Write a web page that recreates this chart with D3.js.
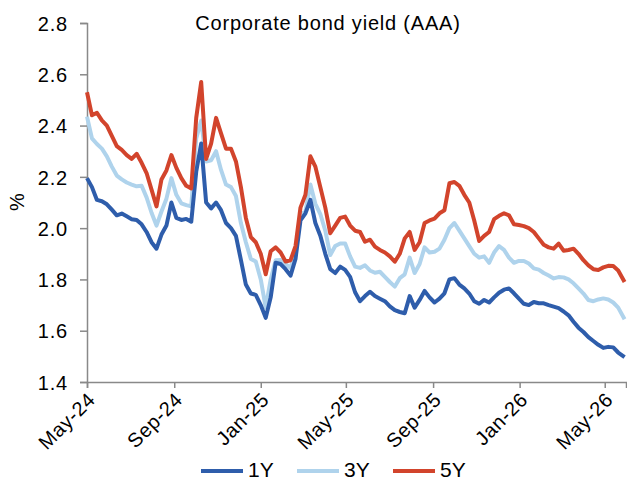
<!DOCTYPE html>
<html>
<head>
<meta charset="utf-8">
<script src="https://cdn.jsdelivr.net/npm/d3@7"></script>
<style>
  html, body { margin: 0; padding: 0; background: #fff; }
  svg { display: block; font-family: "Liberation Sans", Arial, sans-serif; }
</style>
</head>
<body>
<svg id="chart" width="627" height="478"></svg>
<script>
// Weekly observation dates
const dates = [
  "2024-05-01","2024-05-08","2024-05-15","2024-05-22","2024-05-29","2024-06-05","2024-06-12","2024-06-19","2024-06-26","2024-07-03",
  "2024-07-10","2024-07-17","2024-07-24","2024-07-31","2024-08-07","2024-08-14","2024-08-21","2024-08-28","2024-09-04","2024-09-11",
  "2024-09-18","2024-09-25","2024-10-02","2024-10-09","2024-10-16","2024-10-23","2024-10-30","2024-11-06","2024-11-13","2024-11-20",
  "2024-11-27","2024-12-04","2024-12-11","2024-12-18","2024-12-25","2025-01-01","2025-01-08","2025-01-15","2025-01-22","2025-01-29",
  "2025-02-05","2025-02-12","2025-02-19","2025-02-26","2025-03-05","2025-03-12","2025-03-19","2025-03-26","2025-04-02","2025-04-09",
  "2025-04-16","2025-04-23","2025-04-30","2025-05-07","2025-05-14","2025-05-21","2025-05-28","2025-06-04","2025-06-11","2025-06-18",
  "2025-06-25","2025-07-02","2025-07-09","2025-07-16","2025-07-23","2025-07-30","2025-08-06","2025-08-13","2025-08-20","2025-08-27",
  "2025-09-03","2025-09-10","2025-09-17","2025-09-24","2025-10-01","2025-10-08","2025-10-15","2025-10-22","2025-10-29","2025-11-05",
  "2025-11-12","2025-11-19","2025-11-26","2025-12-03","2025-12-10","2025-12-17","2025-12-24","2025-12-31","2026-01-07","2026-01-14",
  "2026-01-21","2026-01-28","2026-02-04","2026-02-11","2026-02-18","2026-02-25","2026-03-04","2026-03-11","2026-03-18","2026-03-25",
  "2026-04-01","2026-04-08","2026-04-15","2026-04-22","2026-04-29","2026-05-06","2026-05-13","2026-05-20","2026-05-29"
];

// AAA corporate bond yields, %
const yield1Y = [
  2.195, 2.16, 2.11, 2.105, 2.093, 2.072, 2.05, 2.057, 2.046, 2.035,
  2.032, 2.015, 1.985, 1.945, 1.92, 1.975, 2.01, 2.10, 2.04, 2.032,
  2.036, 2.025, 2.22, 2.33, 2.10, 2.077, 2.10, 2.07, 2.02, 2.0,
  1.97, 1.876, 1.78, 1.745, 1.74, 1.70, 1.65, 1.73, 1.865, 1.86,
  1.84, 1.815, 1.88, 2.03, 2.058, 2.11, 2.02, 1.97, 1.90, 1.84,
  1.825, 1.85, 1.837, 1.81, 1.75, 1.715, 1.735, 1.752, 1.735, 1.725,
  1.715, 1.695, 1.68, 1.673, 1.668, 1.735, 1.69, 1.72, 1.755, 1.73,
  1.71, 1.725, 1.746, 1.80, 1.805, 1.78, 1.765, 1.745, 1.715, 1.705,
  1.72, 1.71, 1.73, 1.748, 1.76, 1.765, 1.746, 1.725, 1.705, 1.70,
  1.712, 1.707, 1.707, 1.70, 1.694, 1.688, 1.675, 1.66, 1.635, 1.612,
  1.595, 1.575, 1.56, 1.545, 1.533, 1.537, 1.535, 1.515, 1.497
];
const yield3Y = [
  2.435, 2.35, 2.328, 2.31, 2.28, 2.24, 2.205, 2.19, 2.178, 2.17,
  2.163, 2.165, 2.12, 2.06, 2.01, 2.065, 2.115, 2.195, 2.13, 2.097,
  2.09, 2.085, 2.35, 2.42, 2.26, 2.265, 2.30, 2.227, 2.17, 2.16,
  2.125, 2.02, 1.945, 1.88, 1.87, 1.80, 1.69, 1.80, 1.875, 1.876,
  1.86, 1.845, 1.91, 2.055, 2.065, 2.17, 2.095, 2.055, 1.99, 1.895,
  1.93, 1.94, 1.94, 1.89, 1.85, 1.845, 1.855, 1.835, 1.826, 1.83,
  1.81, 1.79, 1.772, 1.805, 1.82, 1.885, 1.825, 1.86, 1.925, 1.905,
  1.908, 1.92, 1.955, 2.0, 2.02, 1.99, 1.96, 1.93, 1.90, 1.885,
  1.89, 1.865, 1.905, 1.93, 1.915, 1.885, 1.865, 1.872, 1.872, 1.862,
  1.843, 1.838, 1.825, 1.815, 1.804, 1.809, 1.808, 1.80, 1.785, 1.765,
  1.745, 1.72, 1.715, 1.722, 1.726, 1.722, 1.71, 1.69, 1.645
];
const yield5Y = [
  2.53, 2.44, 2.45, 2.42, 2.40, 2.36, 2.32, 2.305, 2.285, 2.27,
  2.29, 2.255, 2.215, 2.15, 2.085, 2.19, 2.225, 2.285, 2.235, 2.195,
  2.165, 2.155, 2.43, 2.57, 2.27, 2.33, 2.43, 2.37, 2.31, 2.31,
  2.26, 2.16, 2.04, 1.965, 1.945, 1.90, 1.82, 1.91, 1.925, 1.905,
  1.87, 1.875, 1.93, 2.08, 2.13, 2.28, 2.24, 2.16, 2.08, 1.98,
  2.01, 2.04, 2.045, 2.01, 1.99, 1.985, 1.947, 1.955, 1.928, 1.915,
  1.905, 1.89, 1.869, 1.90, 1.96, 1.985, 1.915, 1.945, 2.02, 2.03,
  2.037, 2.058, 2.07, 2.175, 2.18, 2.165, 2.13, 2.10, 2.03, 1.95,
  1.97, 1.985, 2.035, 2.048, 2.058, 2.05, 2.015, 2.012, 2.008, 2.0,
  1.985, 1.96, 1.935, 1.925, 1.92, 1.94, 1.912, 1.915, 1.92, 1.90,
  1.875, 1.855, 1.84, 1.837, 1.847, 1.853, 1.852, 1.835, 1.79
];

const seriesNames = ["1Y", "3Y", "5Y"];
const seriesColors = ["#2E5DAB", "#AFD3EC", "#D2442C"];
const xTickLabels = ["May-24", "Sep-24", "Jan-25", "May-25", "Sep-25", "Jan-26", "May-26"];
const yTicks = [1.4, 1.6, 1.8, 2.0, 2.2, 2.4, 2.6, 2.8];
const xDomainLabels = ["2024-05-01", "2026-05-31"];
const titleText = "Corporate bond yield (AAA)";
const yAxisLabel = "%";

const parseDay = d3.timeParse("%Y-%m-%d");
const parseTick = d3.timeParse("%b-%y");

const W = 627, H = 478;
const margin = { top: 23, right: 1, bottom: 96, left: 87 };
const fontFamily = "Liberation Sans, Arial, sans-serif";

const svg = d3.select("#chart");

const x = d3.scaleTime()
  .domain(xDomainLabels.map(parseDay))
  .range([margin.left, W - margin.right]);
const y = d3.scaleLinear()
  .domain([1.4, 2.8])
  .range([H - margin.bottom, margin.top]);

const axisColor = "#898989";

// y axis
const yAxis = svg.append("g")
  .attr("transform", `translate(${margin.left},0)`)
  .call(d3.axisLeft(y).tickValues(yTicks).tickFormat(d3.format(".1f")).tickSizeOuter(0).tickSize(7).tickPadding(12));
yAxis.select(".domain").attr("stroke", axisColor).attr("stroke-width", 1.5);
yAxis.selectAll(".tick line").attr("stroke", axisColor).attr("stroke-width", 1.5);
yAxis.selectAll(".tick text")
  .attr("fill", "#000").attr("font-size", 20).attr("font-family", fontFamily)
  .attr("letter-spacing", "0.8px")
  .attr("dy", "0.36em");

// x axis
const xTickDates = xTickLabels.map(parseTick);
const xAxis = svg.append("g")
  .attr("transform", `translate(0,${H - margin.bottom})`)
  .call(d3.axisBottom(x).tickValues(xTickDates).tickFormat(d3.timeFormat("%b-%y")).tickSizeOuter(0).tickSize(6));
xAxis.select(".domain").attr("stroke", axisColor).attr("stroke-width", 1.5);
xAxis.selectAll(".tick line").attr("stroke", axisColor).attr("stroke-width", 1.5);
xAxis.selectAll(".tick text")
  .attr("fill", "#000").attr("font-size", 20).attr("font-family", fontFamily)
  .attr("letter-spacing", "0.6px")
  .attr("text-anchor", "end")
  .attr("dy", null)
  .attr("y", 0)
  .attr("transform", "translate(9,19) rotate(-45)");

// y axis title
svg.append("text")
  .attr("transform", "translate(24,202) rotate(-90)")
  .attr("text-anchor", "middle")
  .attr("font-size", 20)
  .attr("font-family", fontFamily)
  .text(yAxisLabel);

// chart title
svg.append("text")
  .attr("x", 328)
  .attr("y", 30)
  .attr("text-anchor", "middle")
  .attr("font-size", 20)
  .attr("letter-spacing", "0.8px")
  .attr("font-family", fontFamily)
  .text(titleText);

// lines
const parsedDates = dates.map(parseDay);
const seriesValues = [yield1Y, yield3Y, yield5Y];
const line = d3.line()
  .x((d, i) => x(parsedDates[i]))
  .y(d => y(d));

const drawOrder = [1, 0, 2];
svg.append("g")
  .selectAll("path")
  .data(drawOrder)
  .join("path")
  .attr("d", i => line(seriesValues[i]))
  .attr("fill", "none")
  .attr("stroke", i => seriesColors[i])
  .attr("stroke-width", 4)
  .attr("stroke-linejoin", "round")
  .attr("stroke-linecap", "butt");

// legend
const legendX = [201, 297, 393];
const legend = svg.append("g");
seriesNames.forEach((name, i) => {
  legend.append("line")
    .attr("x1", legendX[i]).attr("x2", legendX[i] + 42)
    .attr("y1", 471).attr("y2", 471)
    .attr("stroke", seriesColors[i])
    .attr("stroke-width", 4);
  legend.append("text")
    .attr("x", legendX[i] + 47)
    .attr("y", 477)
    .attr("font-size", 21)
    .attr("font-family", fontFamily)
    .text(name);
});
</script>
</body>
</html>
